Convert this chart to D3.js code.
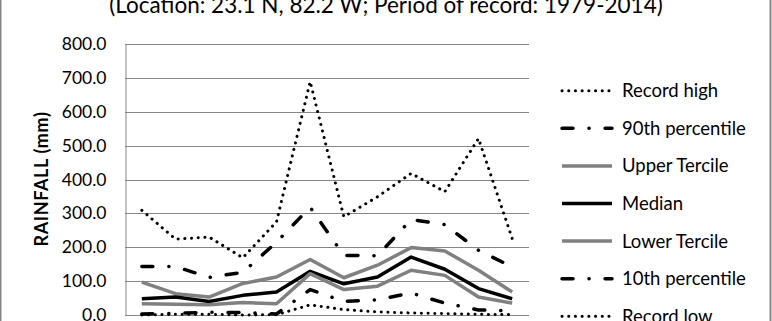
<!DOCTYPE html>
<html>
<head>
<meta charset="utf-8">
<script src="https://cdn.jsdelivr.net/npm/d3@7"></script>
<style>
  body { margin: 0; background: #fff; }
  svg { display: block; font-family: Lato, "Liberation Sans", sans-serif; }
</style>
</head>
<body>
<div id="chart"></div>
<script>
// monthly rainfall statistics (mm)
const months = ["Jan", "Feb", "Mar", "Apr", "May", "Jun", "Jul", "Aug", "Sep", "Oct", "Nov", "Dec"];
const recordHigh   = [309, 224, 230, 169, 275, 689, 290, 349, 418, 364, 521, 226];
const p90          = [143, 143, 111, 126, 215, 318, 176, 175, 282, 267, 191, 142];
const upperTercile = [97, 63, 53, 93, 112, 164, 110, 147, 199, 189, 132, 68];
const median       = [48, 53, 40, 58, 68, 129, 92, 112, 171, 135, 78, 48];
const lowerTercile = [33, 32, 30, 37, 33, 122, 75, 85, 132, 117, 53, 35];
const p10          = [3, 5, 8, 7, 3, 75, 40, 45, 65, 35, 15, 12];
const recordLow    = [0, 2, 2, 0, 1, 30, 16, 9, 6, 4, 2, 1];
const yTicks = [0, 100, 200, 300, 400, 500, 600, 700, 800];

const seriesNames = ["Record high", "90th percentile", "Upper Tercile", "Median", "Lower Tercile", "10th percentile", "Record low"];
const seriesValues = [recordHigh, p90, upperTercile, median, lowerTercile, p10, recordLow];

// line styles per series
const dotted = {stroke: "#000", width: 3, dash: "0.1,6.6", cap: "round"};
const dashDot = {stroke: "#000", width: 3.5, dash: "11,16,0.1,16", cap: "round"};
const styles = [
    dotted,
    dashDot,
    {stroke: "#808080", width: 3.5, dash: null, cap: "butt"},
    {stroke: "#000", width: 3.5, dash: null, cap: "butt"},
    {stroke: "#808080", width: 3.5, dash: null, cap: "butt"},
    dashDot,
    dotted
];

const W = 772, H = 321;
const plot = {left: 125, right: 529, top: 44, bottom: 315};

const svg = d3.select("#chart").append("svg")
    .attr("width", W)
    .attr("height", H);

// outer chart border (partly cut off)
svg.append("rect")
    .attr("x", 0.5).attr("y", -10)
    .attr("width", 770).attr("height", H + 20)
    .attr("fill", "none")
    .attr("stroke", "#868686")
    .attr("stroke-width", 2);

// title (only its second line is in view)
svg.append("text")
    .attr("x", 386)
    .attr("y", 12.5)
    .attr("text-anchor", "middle")
    .attr("font-size", 22.5)
    .attr("fill", "#000")
    .text("(Location: 23.1 N, 82.2 W; Period of record: 1979-2014)");

const x = d3.scalePoint()
    .domain(months)
    .range([plot.left, plot.right])
    .padding(0.5);

const y = d3.scaleLinear()
    .domain([0, 800])
    .range([plot.bottom, plot.top]);

// gridlines
svg.append("g")
    .selectAll("line")
    .data(yTicks)
    .enter()
    .append("line")
    .attr("x1", plot.left)
    .attr("x2", plot.right)
    .attr("y1", d => Math.round(y(d)) + 0.5)
    .attr("y2", d => Math.round(y(d)) + 0.5)
    .attr("stroke", "#868686")
    .attr("stroke-width", 1);

// y axis
let yAxis = svg.append("g")
    .attr("transform", "translate(" + (plot.left + 0.5) + ",0)")
    .call(d3.axisLeft(y).tickValues(yTicks).tickFormat(d3.format(".1f")).tickSize(0).tickPadding(19));
yAxis.select(".domain").attr("stroke", "#868686");
yAxis.selectAll("text")
    .attr("font-family", "Lato, sans-serif")
    .attr("font-size", 17.5)
    .attr("fill", "#000");

svg.append("text")
    .attr("transform", "translate(48,179) rotate(-90)")
    .attr("text-anchor", "middle")
    .attr("font-size", 18)
    .attr("font-weight", "bold")
    .attr("letter-spacing", 0.6)
    .attr("fill", "#000")
    .text("RAINFALL (mm)");

// series lines
const line = d3.line()
    .x((d, i) => x(months[i]))
    .y(d => y(d));

svg.append("g")
    .selectAll("path")
    .data(seriesValues)
    .enter()
    .append("path")
    .attr("d", d => line(d))
    .attr("fill", "none")
    .attr("stroke", (d, i) => styles[i].stroke)
    .attr("stroke-width", (d, i) => styles[i].width)
    .attr("stroke-dasharray", (d, i) => styles[i].dash)
    .attr("stroke-linecap", (d, i) => styles[i].cap)
    .attr("stroke-linejoin", "round");

// legend
const legend = svg.append("g")
    .selectAll("g")
    .data(seriesNames)
    .enter()
    .append("g")
    .attr("transform", (d, i) => "translate(562," + (90.7 + i * 37.6) + ")");

legend.append("line")
    .attr("x1", 0).attr("x2", 50)
    .attr("y1", 0).attr("y2", 0)
    .attr("stroke", (d, i) => styles[i].stroke)
    .attr("stroke-width", (d, i) => styles[i].width)
    .attr("stroke-dasharray", (d, i) => styles[i].dash)
    .attr("stroke-linecap", (d, i) => styles[i].cap);

legend.append("text")
    .attr("x", 60)
    .attr("y", 0)
    .attr("dy", "0.35em")
    .attr("font-size", 18.5)
    .attr("fill", "#000")
    .text(d => d);
</script>
</body>
</html>
